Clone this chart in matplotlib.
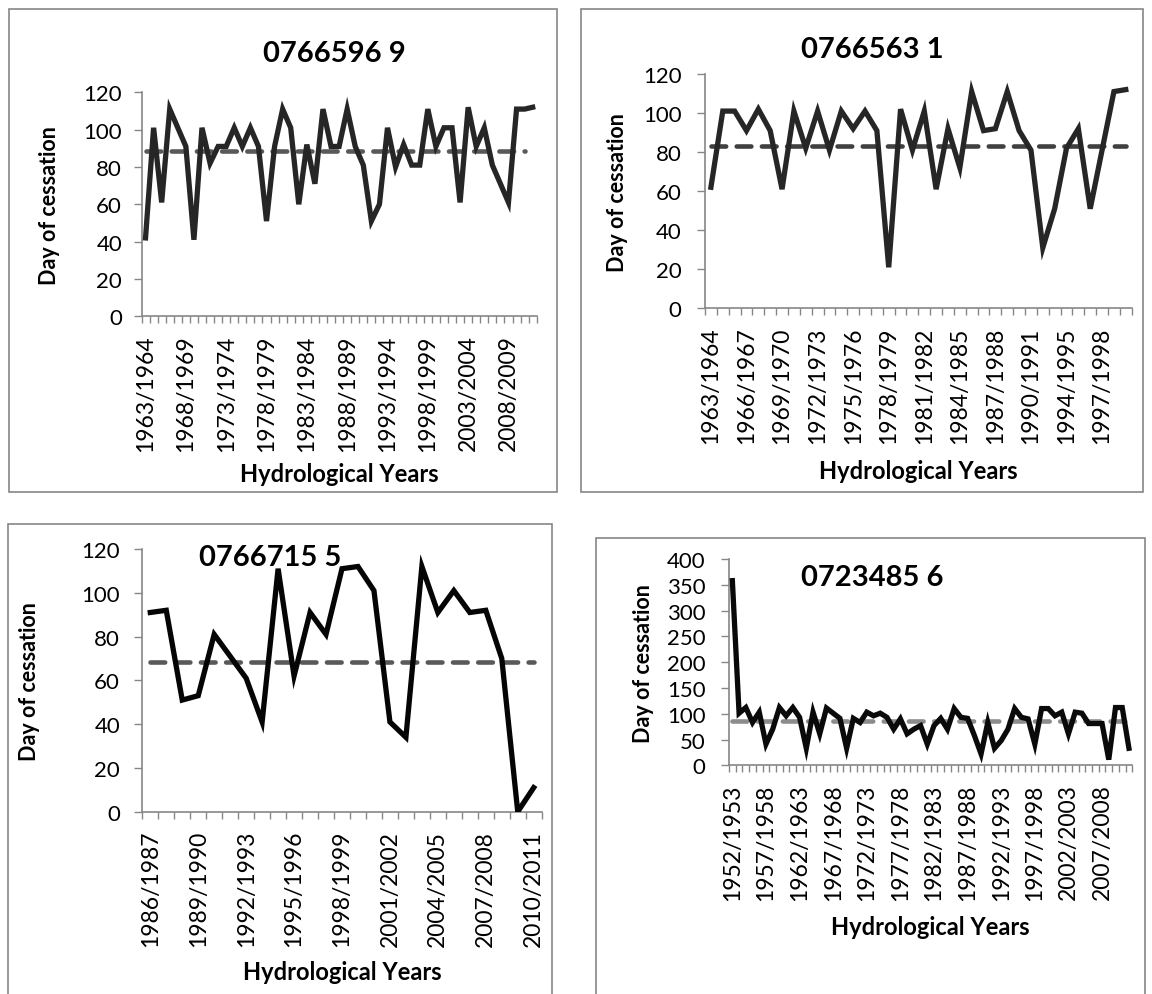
import numpy as np
import matplotlib.pyplot as plt
from matplotlib.patches import Rectangle

plt.rcParams['font.family'] = ['Lato', 'DejaVu Sans']

# figure size in pixels (dpi 100)
W, H = 1152, 995

# station 0766596 9
years_1 = [f"{y}/{y + 1}" for y in range(1963, 2012)]
cess_1 = [42, 101, 61, 111, 101, 91, 41, 101, 82, 91, 91, 101, 91, 101, 91, 51, 91, 111, 101, 60,
          92, 71, 111, 91, 91, 111, 91, 81, 51, 60, 101, 80, 92, 81, 81, 111, 91, 101, 101, 61,
          112, 91, 101, 81, 71, 61, 111, 111, 112]
mean_1 = 88.5
mean_len_1 = 48

# station 0766563 1
years_2 = [f"{y}/{y + 1}" for y in list(range(1963, 1993)) + list(range(1994, 2000))]
cess_2 = [62, 101, 101, 91, 102, 91, 61, 101, 82, 101, 81, 101, 92, 101, 91, 21, 102, 81, 101, 61,
          92, 72, 111, 91, 92, 111, 91, 81, 31, 51, 82, 92, 51, 81, 111, 112]
mean_2 = 83
mean_len_2 = 36

# station 0766715 5
years_3 = [f"{y}/{y + 1}" for y in range(1986, 2011)]
cess_3 = [91, 92, 51, 53, 81, 71, 61, 41, 111, 62, 91, 81, 111, 112, 101, 41, 34, 112, 91, 101,
          91, 92, 70, 0, 11]
mean_3 = 68.5
mean_len_3 = 25

# station 0723485 6
years_4 = [f"{y}/{y + 1}" for y in range(1952, 2012)]
cess_4 = [358, 101, 112, 83, 103, 41, 70, 112, 96, 112, 93, 33, 103, 61, 111, 101, 91, 33, 91, 83,
          103, 96, 101, 93, 70, 90, 61, 70, 77, 41, 77, 91, 70, 110, 93, 91, 58, 22, 83, 33,
          48, 70, 110, 93, 90, 41, 110, 110, 96, 103, 61, 103, 101, 81, 81, 81, 11, 112, 112, 33]
mean_4 = 86.5
mean_len_4 = 60

AXIS_GREY = '#868686'

fig = plt.figure(figsize=(W / 100, H / 100), dpi=100)

# chart frames (x0, y0, x1, y1 in px from top-left)
frames = [(9, 10, 557, 493), (581, 10, 1143, 493), (8, 525, 552, 1000), (596, 539, 1145, 1000)]
for x0, y0, x1, y1 in frames:
    fig.patches.append(Rectangle((x0 / W, 1 - y1 / H), (x1 - x0) / W, (y1 - y0) / H,
                                 transform=fig.transFigure, fill=False,
                                 edgecolor=AXIS_GREY, linewidth=1.2))


def draw_panel(box, years, vals, mean, mean_len, ymax, ystep, label_step,
               line_col, mean_col, title, title_xy, ylab_x, xlab_y, ypad):
    x0, x1, ytop, ybot = box
    ax = fig.add_axes([x0 / W, 1 - ybot / H, (x1 - x0) / W, (ybot - ytop) / H])
    n = len(years)
    xs = np.arange(n) + 0.5
    ax.plot(xs, vals, color=line_col, linewidth=3.8, solid_joinstyle='miter', zorder=3)
    ax.plot(xs[:mean_len], [mean] * mean_len, color=mean_col, linewidth=3.3,
            dashes=(3.2, 2.3), dash_capstyle='round', zorder=2)
    ax.set_xlim(0, n)
    ax.set_ylim(0, ymax)
    ax.set_yticks(np.arange(0, ymax + 1, ystep))
    ax.set_xticks(np.arange(n + 1))
    ax.set_xticklabels([])
    ax.set_xticks(xs[::label_step], minor=True)
    ax.set_xticklabels(years[::label_step], minor=True, rotation=90, fontsize=16.5)
    ax.tick_params(axis='x', which='major', length=5, width=1, color=AXIS_GREY, direction='out')
    ax.tick_params(axis='x', which='minor', length=0, pad=13)
    ax.tick_params(axis='y', length=6, width=1, color=AXIS_GREY, labelsize=16, pad=ypad)
    for s in ['top', 'right']:
        ax.spines[s].set_visible(False)
    for s in ['left', 'bottom']:
        ax.spines[s].set_color(AXIS_GREY)
        ax.spines[s].set_linewidth(1.2)
    ax.patch.set_alpha(0)
    fig.text(title_xy[0] / W, 1 - title_xy[1] / H, title, fontsize=21, fontweight='bold',
             ha='center', va='center')
    fig.text(ylab_x / W, 1 - (ytop + ybot) / 2 / H, 'Day of cessation', fontsize=15.5,
             fontweight='bold', rotation=90, ha='center', va='center')
    fig.text((x0 + x1) / 2 / W, 1 - xlab_y / H, 'Hydrological Years', fontsize=17,
             fontweight='bold', ha='center', va='center')
    return ax


draw_panel((141.5, 536.7, 93.3, 317.3), years_1, cess_1, mean_1, mean_len_1, 120, 20, 5,
           '#262626', '#595959', '0766596 9', (334, 54), 50, 475, 8)
draw_panel((705, 1131.7, 75, 309.3), years_2, cess_2, mean_2, mean_len_2, 120, 20, 3,
           '#262626', '#404040', '0766563 1', (872, 50), 617, 472, 11)
draw_panel((142.3, 541.7, 550, 812.7), years_3, cess_3, mean_3, mean_len_3, 120, 20, 3,
           '#050505', '#595959', '0766715 5', (270, 558), 30, 973, 10)
draw_panel((729, 1132.3, 560, 766.3), years_4, cess_4, mean_4, mean_len_4, 400, 50, 5,
           '#0a0a0a', '#8c8c8c', '0723485 6', (872, 578), 643, 928, 11)

fig.savefig('out.png', dpi=100)
